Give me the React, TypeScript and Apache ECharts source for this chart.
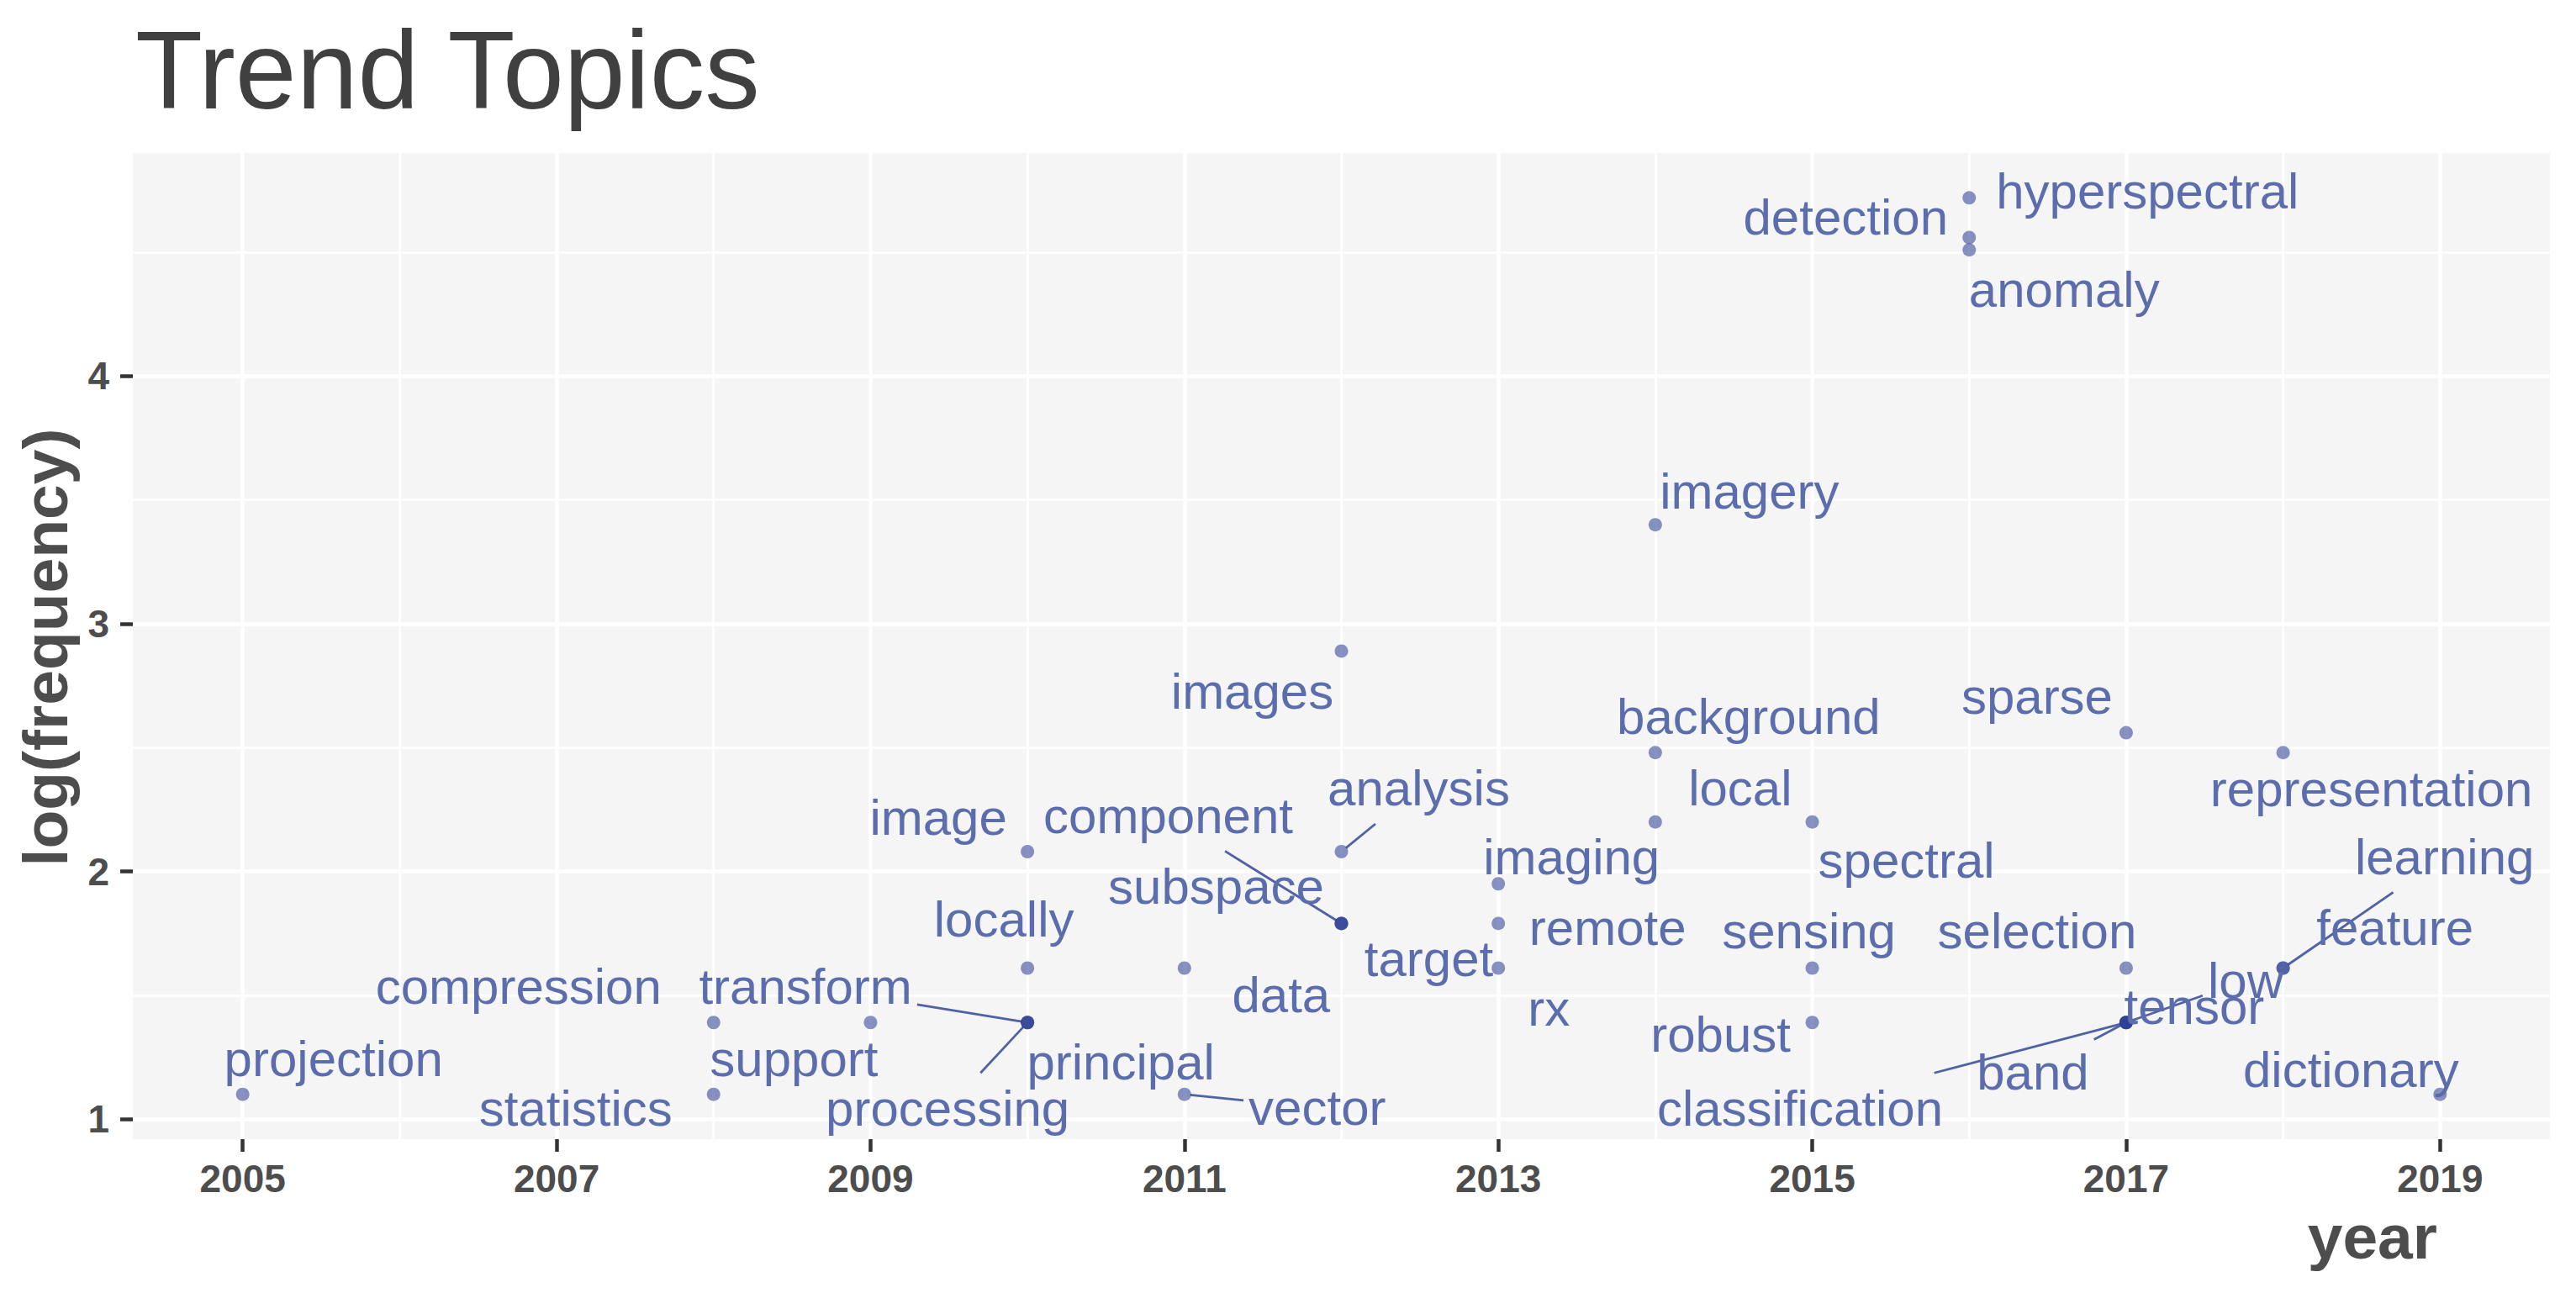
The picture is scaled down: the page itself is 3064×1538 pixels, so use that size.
import React, { useEffect, useRef } from "react";
import * as echarts from "echarts";

// ---- data ----
const topics = [
  "projection", "statistics", "compression", "support", "transform", "processing", "principal",
  "image", "locally", "data", "vector", "images", "analysis", "component", "subspace", "target",
  "imaging", "remote", "rx", "imagery", "background", "local", "spectral", "sensing", "robust",
  "classification", "band", "tensor", "low", "sparse", "selection", "hyperspectral", "detection",
  "anomaly", "representation", "feature", "learning", "dictionary",
];
const years = [
  2005, 2008, 2008, 2009, 2010, 2010, 2010, 2010, 2010, 2011, 2011, 2012, 2012, 2012, 2012, 2012,
  2013, 2013, 2013, 2014, 2014, 2014, 2015, 2015, 2015, 2017, 2017, 2017, 2017, 2017, 2017, 2016,
  2016, 2016, 2018, 2018, 2018, 2019,
];
const logFreq = [
  1.10, 1.10, 1.39, 1.39, 1.39, 1.39, 1.39, 2.08, 1.61, 1.61, 1.10, 2.89, 2.08, 1.79, 1.79, 1.79,
  1.95, 1.79, 1.61, 3.40, 2.48, 2.20, 2.20, 1.61, 1.39, 1.39, 1.39, 1.39, 1.39, 2.56, 1.61, 4.72,
  4.56, 4.51, 2.48, 1.61, 1.61, 1.10,
];
const xMajorTicks = [2005, 2007, 2009, 2011, 2013, 2015, 2017, 2019];
const xMinorTicks = [2006, 2008, 2010, 2012, 2014, 2016, 2018];
const yMajorTicks = [1, 2, 3, 4];
const yMinorTicks = [1.5, 2.5, 3.5, 4.5];

// ---- label placement (pixel offsets of the label centre from its point) ----
const labelOffsets: Record<string, [number, number]> = {
  projection: [108, -42], statistics: [-164, 17], compression: [-232, -43], support: [-91, 43],
  transform: [-264, -43], processing: [-95, 102], principal: [111, 47], image: [-106, -40],
  locally: [-28, -58], data: [115, 32], vector: [158, 16], images: [-106, 48],
  analysis: [92, -75], component: [-206, -128], subspace: [-149, -44], target: [104, 42],
  imaging: [87, -32], remote: [130, 5], rx: [60, 48], imagery: [112, -40],
  background: [111, -43], local: [101, -40], spectral: [112, 46], sensing: [-4, -44],
  robust: [-109, 14], classification: [-388, 102], band: [-111, 59], tensor: [81, -19],
  low: [142, -50], sparse: [-106, -43], selection: [-106, -44], hyperspectral: [212, -8],
  detection: [-147, -24], anomaly: [113, 47], representation: [105, 43], feature: [133, -48],
  learning: [192, -132], dictionary: [-106, -29],
};
const leaderTopics = [
  "transform", "processing", "vector", "analysis", "component", "classification", "band", "low",
  "learning", "dictionary",
];

const FONT = "'Liberation Sans', Arial, Helvetica, sans-serif";
const LABEL_SIZE = 60;

let measureCtx: CanvasRenderingContext2D | null = null;
function labelWidth(t: string): number {
  if (!measureCtx) measureCtx = document.createElement("canvas").getContext("2d");
  if (!measureCtx) return t.length * LABEL_SIZE * 0.5;
  measureCtx.font = `${LABEL_SIZE}px ${FONT}`;
  return measureCtx.measureText(t).width;
}

export default function App() {
  const ref = useRef<HTMLDivElement>(null);

  useEffect(() => {
    if (!ref.current) return;
    const chart = echarts.init(ref.current, undefined, { renderer: "svg" });

    const xMin = Math.min(...years);
    const xMax = Math.max(...years);
    const xPad = (xMax - xMin) * 0.05;
    const yMin = Math.min(...logFreq);
    const yMax = Math.max(...logFreq);
    const yPad = (yMax - yMin) * 0.05;

    const tickLabel = {
      fontSize: 46,
      fontWeight: "bold" as const,
      color: "#4D4D4D",
      fontFamily: FONT,
    };

    const leaderData = topics
      .map((t, i) => ({ t, i }))
      .filter((d) => leaderTopics.includes(d.t))
      .map((d) => [years[d.i], logFreq[d.i], d.i]);

    const option: any = {
      animation: false,
      backgroundColor: "#FFFFFF",
      grid: {
        left: 158,
        top: 182,
        width: 2875,
        height: 1173,
        show: true,
        backgroundColor: "#F5F5F5",
        borderWidth: 0,
        containLabel: false,
        outerBoundsMode: "none",
      },
      xAxis: [
        {
          type: "value",
          min: xMin - xPad,
          max: xMax + xPad,
          axisLine: { show: false },
          axisTick: {
            show: true,
            customValues: xMajorTicks,
            length: 15,
            lineStyle: { color: "#333333", width: 4.5 },
          },
          axisLabel: {
            ...tickLabel,
            customValues: xMajorTicks,
            margin: 24,
            formatter: (v: number) => String(v),
          },
          splitLine: { show: true, lineStyle: { color: "#FFFFFF", width: 4.5 } },
          z: 1,
        },
        {
          type: "value",
          min: xMin - xPad,
          max: xMax + xPad,
          position: "bottom",
          axisLine: { show: false },
          axisTick: { show: false, customValues: xMinorTicks },
          axisLabel: { show: false, customValues: xMinorTicks },
          splitLine: { show: true, lineStyle: { color: "#FFFFFF", width: 2.5 } },
          z: 1,
        },
      ],
      yAxis: [
        {
          type: "value",
          min: yMin - yPad,
          max: yMax + yPad,
          axisLine: { show: false },
          axisTick: {
            show: true,
            customValues: yMajorTicks,
            length: 15,
            lineStyle: { color: "#333333", width: 4.5 },
          },
          axisLabel: {
            ...tickLabel,
            customValues: yMajorTicks,
            margin: 28,
            formatter: (v: number) => String(v),
          },
          splitLine: { show: true, lineStyle: { color: "#FFFFFF", width: 4.5 } },
          z: 1,
        },
        {
          type: "value",
          min: yMin - yPad,
          max: yMax + yPad,
          position: "left",
          axisLine: { show: false },
          axisTick: { show: false, customValues: yMinorTicks },
          axisLabel: { show: false, customValues: yMinorTicks },
          splitLine: { show: true, lineStyle: { color: "#FFFFFF", width: 2.5 } },
          z: 1,
        },
      ],
      graphic: [
        {
          type: "text",
          x: 161,
          y: 83,
          style: {
            text: "Trend Topics",
            fontSize: 131,
            fontFamily: FONT,
            fill: "#404040",
            align: "left",
            verticalAlign: "middle",
          },
        },
        {
          type: "text",
          x: 2899,
          y: 1471,
          style: {
            text: "year",
            fontSize: 75,
            fontWeight: "bold",
            fontFamily: FONT,
            fill: "#4D4D4D",
            align: "right",
            verticalAlign: "middle",
          },
        },
        {
          type: "text",
          x: 54,
          y: 770,
          rotation: Math.PI / 2,
          style: {
            text: "log(frequency)",
            fontSize: 75,
            fontWeight: "bold",
            fontFamily: FONT,
            fill: "#4D4D4D",
            align: "center",
            verticalAlign: "middle",
          },
        },
      ],
      series: [
        {
          // leader segments, from each point towards its label, clipped at the label box
          type: "custom",
          xAxisIndex: 0,
          yAxisIndex: 0,
          coordinateSystem: "cartesian2d",
          clip: false,
          silent: true,
          z: 2,
          encode: { x: 0, y: 1 },
          data: leaderData,
          renderItem: (_params: any, api: any) => {
            const idx = api.value(2) as number;
            const t = topics[idx];
            const p = api.coord([api.value(0), api.value(1)]);
            const o = labelOffsets[t] || [0, 0];
            const cx = p[0] + o[0];
            const cy = p[1] + o[1];
            const hw = labelWidth(t) / 2 + 6;
            const hh = LABEL_SIZE * 0.7;
            const dx = p[0] - cx;
            const dy = p[1] - cy;
            const s = Math.min(
              dx === 0 ? Infinity : hw / Math.abs(dx),
              dy === 0 ? Infinity : hh / Math.abs(dy)
            );
            if (s >= 1) return null;
            const ex = cx + dx * s;
            const ey = cy + dy * s;
            const len = Math.hypot(ex - p[0], ey - p[1]) || 1;
            const r = 7;
            const sx = p[0] + ((ex - p[0]) / len) * r;
            const sy = p[1] + ((ey - p[1]) / len) * r;
            return {
              type: "line",
              shape: { x1: sx, y1: sy, x2: ex, y2: ey },
              style: { stroke: "#4F62A6", lineWidth: 2.8 },
            };
          },
        },
        {
          type: "scatter",
          xAxisIndex: 0,
          yAxisIndex: 0,
          symbol: "circle",
          symbolSize: 16,
          data: topics.map((t, i) => ({
            name: t,
            value: [years[i], logFreq[i]],
          })),
          itemStyle: { color: "rgb(40,58,145)", opacity: 0.55 },
          label: {
            show: true,
            position: "inside",
            formatter: "{b}",
            fontSize: LABEL_SIZE,
            fontFamily: FONT,
            color: "#5B6DAD",
            opacity: 1,
            align: "center",
            verticalAlign: "middle",
          },
          labelLayout: (p: any) => {
            const o = labelOffsets[topics[p.dataIndex]] || [0, 0];
            return { dx: o[0], dy: o[1], hideOverlap: false };
          },
          emphasis: { disabled: true },
          z: 3,
        },
      ],
    };

    chart.setOption(option);
    return () => chart.dispose();
  }, []);

  return (
    <div
      ref={ref}
      style={{ position: "fixed", left: 0, top: 0, width: 3064, height: 1538, background: "#fff" }}
    />
  );
}
